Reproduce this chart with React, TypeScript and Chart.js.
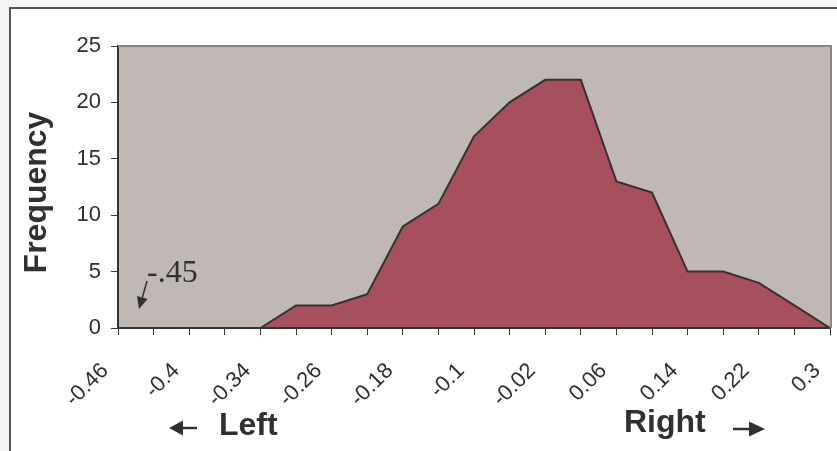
import React, { useEffect, useRef } from "react";
import { Chart, registerables } from "chart.js";

Chart.register(...registerables);

const categories = [
  "-0.46", "-0.43", "-0.4", "-0.37", "-0.34", "-0.3", "-0.26", "-0.22", "-0.18", "-0.14",
  "-0.1", "-0.06", "-0.02", "0.02", "0.06", "0.1", "0.14", "0.18", "0.22", "0.26", "0.3",
];
const frequency = [0, 0, 0, 0, 0, 2, 2, 3, 9, 11, 17, 20, 22, 22, 13, 12, 5, 5, 4, 2, 0];
const yTicks = [0, 5, 10, 15, 20, 25];
const yTitle = "Frequency";
const leftLabel = "Left";
const rightLabel = "Right";
const markerLabel = "-.45";

const SANS = "'Liberation Sans', Arial, sans-serif";
const SERIF = "'Liberation Serif', 'Times New Roman', serif";
const TEXT = "#303030";

function arrow(ctx: CanvasRenderingContext2D, x1: number, y1: number, x2: number, y2: number, head: number, half: number) {
  const ang = Math.atan2(y2 - y1, x2 - x1);
  const bx = x2 - head * Math.cos(ang);
  const by = y2 - head * Math.sin(ang);
  ctx.beginPath();
  ctx.moveTo(x1, y1);
  ctx.lineTo(bx, by);
  ctx.stroke();
  ctx.beginPath();
  ctx.moveTo(x2, y2);
  ctx.lineTo(bx + half * Math.sin(ang), by - half * Math.cos(ang));
  ctx.lineTo(bx - half * Math.sin(ang), by + half * Math.cos(ang));
  ctx.closePath();
  ctx.fill();
}

const decor = {
  id: "decor",
  beforeDraw(chart: any) {
    const { ctx, chartArea, width, height } = chart;
    ctx.save();
    ctx.fillStyle = "#F4F4F2";
    ctx.fillRect(0, 0, width, height);
    ctx.fillStyle = "#FFFFFF";
    ctx.fillRect(10, 8, width - 10, height - 8);
    ctx.strokeStyle = "#555555";
    ctx.lineWidth = 2;
    ctx.beginPath();
    ctx.moveTo(10, height);
    ctx.lineTo(10, 8);
    ctx.lineTo(width, 8);
    ctx.stroke();
    ctx.fillStyle = "#C0B8B5";
    ctx.fillRect(chartArea.left, chartArea.top, chartArea.right - chartArea.left, chartArea.bottom - chartArea.top);
    ctx.restore();
  },
  afterDraw(chart: any) {
    const { ctx, chartArea } = chart;
    ctx.save();
    ctx.strokeStyle = "#8E8583";
    ctx.lineWidth = 2;
    ctx.beginPath();
    ctx.moveTo(chartArea.left, chartArea.top);
    ctx.lineTo(chartArea.right + 1, chartArea.top);
    ctx.lineTo(chartArea.right + 1, chartArea.bottom);
    ctx.stroke();

    ctx.fillStyle = TEXT;
    ctx.save();
    ctx.translate(46, 192.5);
    ctx.rotate(-Math.PI / 2);
    ctx.font = `bold 32px ${SANS}`;
    ctx.textAlign = "center";
    ctx.textBaseline = "alphabetic";
    ctx.fillText(yTitle, 0, 0);
    ctx.restore();

    ctx.font = `bold 32px ${SANS}`;
    ctx.textAlign = "left";
    ctx.textBaseline = "alphabetic";
    ctx.fillText(leftLabel, 219, 435);
    ctx.fillText(rightLabel, 624, 432);

    ctx.font = `32px ${SERIF}`;
    ctx.fillText(markerLabel, 147, 282);

    ctx.strokeStyle = TEXT;
    ctx.fillStyle = TEXT;
    ctx.lineWidth = 1.5;
    arrow(ctx, 147, 281, 139, 309, 12, 5.5);
    ctx.lineWidth = 2.5;
    arrow(ctx, 197, 428, 169, 428, 14, 7.5);
    arrow(ctx, 733, 429, 765, 429, 16, 7.5);
    ctx.restore();
  },
};

export default function App() {
  const ref = useRef<HTMLCanvasElement | null>(null);
  useEffect(() => {
    document.body.style.margin = "0";
    const canvas = ref.current;
    if (!canvas) return;
    const chart = new Chart(canvas, {
      type: "line",
      data: {
        labels: categories,
        datasets: [
          {
            data: frequency,
            fill: "origin",
            backgroundColor: "#A5505C",
            borderColor: "#333333",
            borderWidth: 2,
            pointRadius: 0,
            tension: 0,
          },
        ],
      },
      options: {
        animation: false,
        responsive: false,
        devicePixelRatio: 1,
        layout: { padding: { top: 46, right: 7, bottom: 23, left: 0 } },
        plugins: { legend: { display: false }, tooltip: { enabled: false }, title: { display: false } },
        scales: {
          x: {
            type: "category",
            offset: false,
            grid: { display: true, drawOnChartArea: false, drawTicks: true, tickLength: 7, color: "#333333", lineWidth: 1 },
            border: { display: true, color: "#333333", width: 2, z: 1 },
            ticks: {
              autoSkip: false,
              maxRotation: 45,
              minRotation: 45,
              padding: 23,
              labelOffset: -13,
              color: TEXT,
              font: { family: SANS, size: 22 },
              callback: (_v: any, i: number) => (i % 2 === 0 ? categories[i] : ""),
            },
            afterFit: (s: any) => {
              s.height = 100;
              s.paddingLeft = 0;
              s.paddingRight = 0;
            },
          },
          y: {
            min: 0,
            max: 25,
            afterBuildTicks: (s: any) => {
              s.ticks = yTicks.map((v) => ({ value: v }));
            },
            grid: { display: true, drawOnChartArea: false, drawTicks: true, tickLength: 7, color: "#333333", lineWidth: 1 },
            border: { display: true, color: "#333333", width: 2, z: 1 },
            ticks: {
              padding: 10,
              color: TEXT,
              font: { family: SANS, size: 22 },
            },
            afterFit: (s: any) => {
              s.width = 118;
              s.paddingTop = 0;
              s.paddingBottom = 0;
            },
          },
        },
      },
      plugins: [decor],
    });
    return () => chart.destroy();
  }, []);
  return (
    <div style={{ width: 837, height: 451 }}>
      <canvas ref={ref} width={837} height={451} style={{ display: "block" }} />
    </div>
  );
}
